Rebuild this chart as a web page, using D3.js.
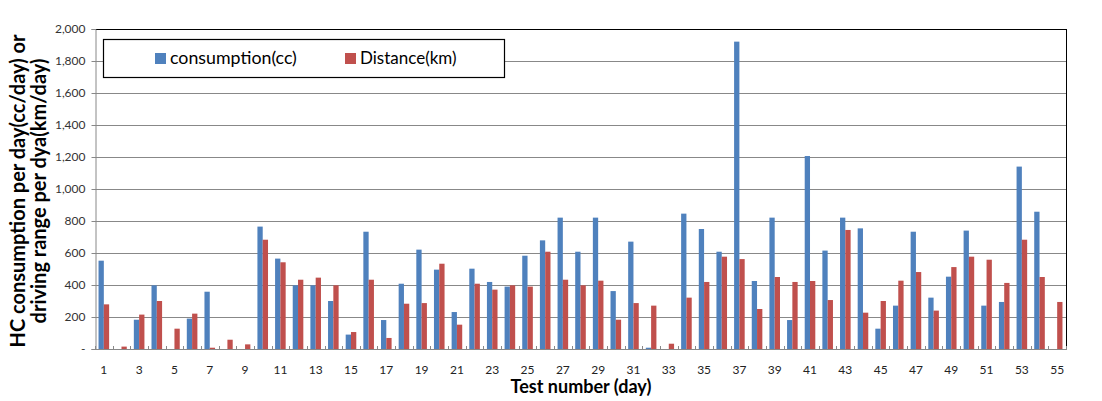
<!DOCTYPE html>
<html><head><meta charset="utf-8">
<script src="https://cdn.jsdelivr.net/npm/d3@7"></script>
<style>body{margin:0;background:#fff}svg{display:block}</style>
</head><body><svg id="c" width="1102" height="401"></svg>
<script>
const days = d3.range(1, 56);
const consumption = [552,0,183,398,0,190,358,0,0,765,565,398,398,300,90,733,181,408,621,496,231,502,419,390,583,679,821,608,821,362,671,8,0,846,750,608,1921,425,821,181,1206,615,821,754,127,271,733,321,452,740,271,294,1140,858,0];
const distance = [279,15,215,300,127,221,8,58,29,683,542,433,446,398,106,433,69,283,287,533,152,408,371,398,390,608,433,398,427,183,287,271,33,321,419,577,562,250,450,419,425,306,744,227,300,427,481,240,512,577,558,413,683,450,294];
const yTicks = [0,200,400,600,800,1000,1200,1400,1600,1800,2000];
const seriesNames = ["consumption(cc)", "Distance(km)"];
const colors = ["#4F81BD", "#C0504D"];

const svg = d3.select("#c");
const L = 95, R = 1066, T = 29, B = 349;
const x = d3.scaleBand().domain(days).range([L, R]).paddingInner(0.4).paddingOuter(0.2);
const y = d3.scaleLinear().domain([0, 2000]).range([B, T]);
const xs = d3.scaleBand().domain([0,1]).range([0, x.bandwidth()]);
const FONT = "Lato, 'Open Sans', sans-serif";

// gridlines
svg.append("g").selectAll("line").data(yTicks.filter(d => d > 0 && d < 2000)).join("line")
  .attr("x1", L).attr("x2", R).attr("y1", d => Math.round(y(d)) + 0.5).attr("y2", d => Math.round(y(d)) + 0.5)
  .attr("stroke", "#888").attr("stroke-width", 1);

// plot border top/right
svg.append("line").attr("x1", L).attr("x2", R + 0.5).attr("y1", T + 0.5).attr("y2", T + 0.5).attr("stroke", "#000");
svg.append("line").attr("x1", R + 0.5).attr("x2", R + 0.5).attr("y1", T).attr("y2", B).attr("stroke", "#000");

// bars
const series = [consumption, distance];
series.forEach((vals, si) => {
  svg.append("g").selectAll("rect").data(days).join("rect")
    .attr("x", d => x(d) + xs(si))
    .attr("width", xs.bandwidth())
    .attr("y", (d, i) => y(vals[i]))
    .attr("height", (d, i) => B - y(vals[i]))
    .attr("fill", colors[si]);
});

// y axis
const yAxis = d3.axisLeft(y).tickValues(yTicks).tickSize(4)
  .tickFormat(d => d === 0 ? "-" : d3.format(",")(d));
const yg = svg.append("g").attr("transform", `translate(${L + 0.5},0)`).call(yAxis);
yg.select(".domain").attr("stroke", "#888");
yg.selectAll(".tick line").attr("stroke", "#888");
yg.selectAll(".tick text").attr("x", -10).attr("font-family", FONT).attr("font-size", 12).attr("fill", "#333");

// x axis
const xAxis = d3.axisBottom(x).tickValues(days.filter(d => d % 2 === 1)).tickSize(0).tickPadding(16);
const xg = svg.append("g").attr("transform", `translate(0,${B + 0.5})`).call(xAxis);
xg.select(".domain").attr("stroke", "#888").attr("d", `M${L},0H${R}`);
xg.selectAll(".tick text").attr("font-family", FONT).attr("font-size", 12).attr("fill", "#222");
// category boundary ticks
svg.append("g").selectAll("line").data(d3.range(0, days.length + 1)).join("line")
  .attr("x1", i => Math.round(L + i * x.step()) + 0.5).attr("x2", i => Math.round(L + i * x.step()) + 0.5)
  .attr("y1", B - 3).attr("y2", B + 1).attr("stroke", "#888");

// axis titles
svg.append("text").attr("x", 581).attr("y", 393).attr("text-anchor", "middle")
  .attr("font-family", FONT).attr("font-weight", "bold").attr("font-size", 18).attr("fill", "#000")
  .text("Test number (day)");
const yt = svg.append("text").attr("transform", "translate(0,191) rotate(-90)").attr("text-anchor", "middle")
  .attr("font-family", FONT).attr("font-weight", "bold").attr("font-size", 20).attr("fill", "#000");
yt.append("tspan").attr("x", 0).attr("y", 25).text("HC consumption per day(cc/day) or");
yt.append("tspan").attr("x", 0).attr("y", 46).text("driving range per dya(km/day)");

// legend
svg.append("rect").attr("x", 103.5).attr("y", 39.5).attr("width", 401).attr("height", 38)
  .attr("fill", "#fff").attr("stroke", "#000").attr("stroke-width", 1.2);
const legX = [155, 345];
seriesNames.forEach((n, i) => {
  svg.append("rect").attr("x", legX[i]).attr("y", 53).attr("width", 11).attr("height", 11).attr("fill", colors[i]);
  svg.append("text").attr("x", legX[i] + 15).attr("y", 64).attr("font-family", FONT)
    .attr("font-size", i === 0 ? 17.8 : 17).attr("fill", "#000").text(n);
});
</script></body></html>
